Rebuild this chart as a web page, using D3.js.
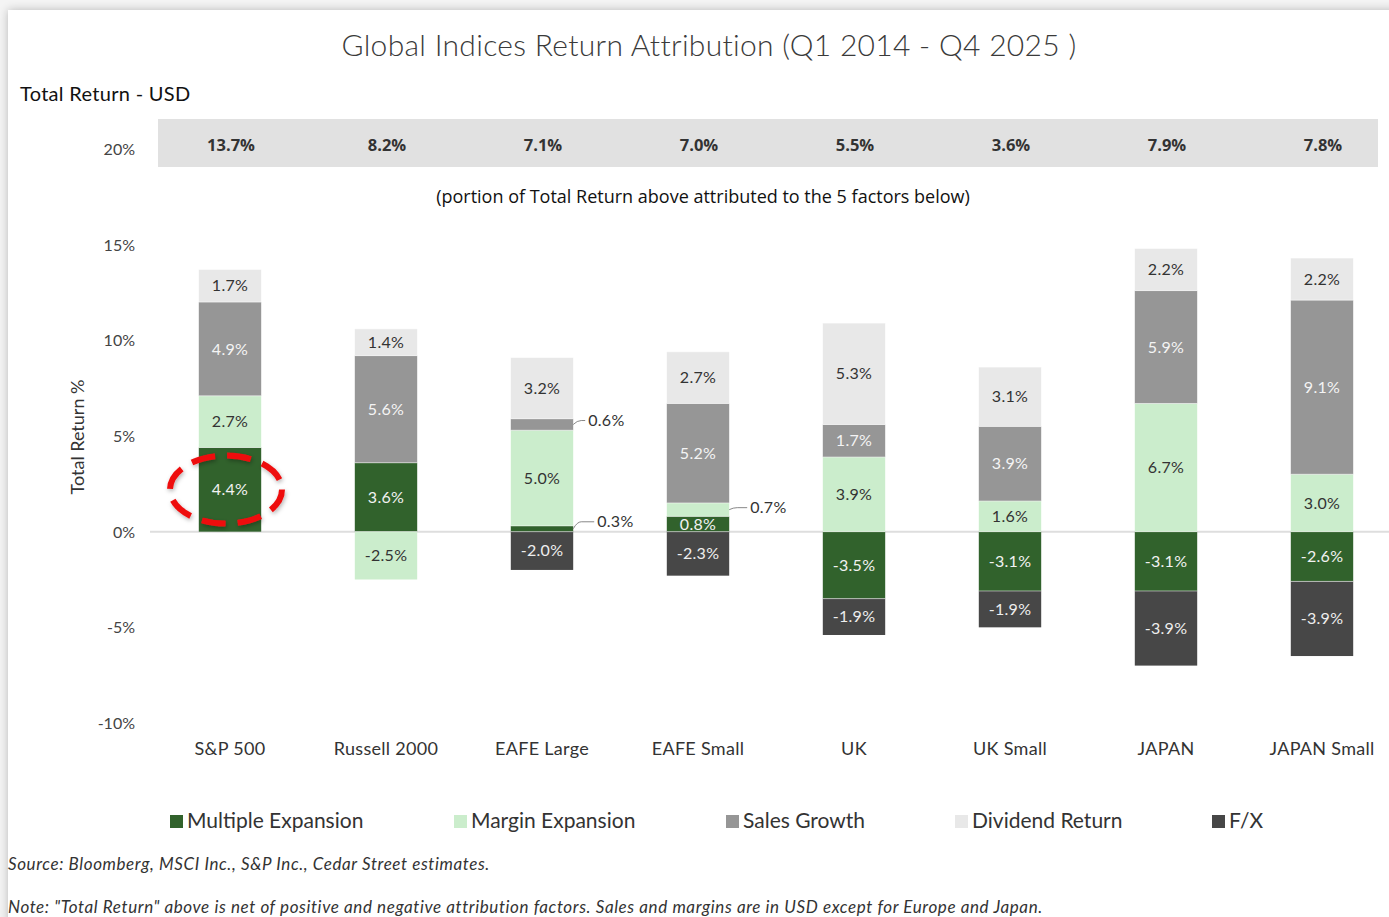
<!DOCTYPE html>
<html><head><meta charset="utf-8">
<script src="https://cdn.jsdelivr.net/npm/d3@7"></script>
<style>
html,body{margin:0;padding:0;background:#fff;}
svg{display:block;}
</style></head>
<body>
<svg id="chart" width="1389" height="917"></svg>
<script>
const categories = ["S&P 500","Russell 2000","EAFE Large","EAFE Small","UK","UK Small","JAPAN","JAPAN Small"];
const totalReturn = ["13.7%","8.2%","7.1%","7.0%","5.5%","3.6%","7.9%","7.8%"];
const seriesNames = ["Multiple Expansion","Margin Expansion","Sales Growth","Dividend Return","F/X"];
const multipleExpansion = [4.4, 3.6, 0.3, 0.8, -3.5, -3.1, -3.1, -2.6];
const marginExpansion   = [2.7, -2.5, 5.0, 0.7, 3.9, 1.6, 6.7, 3.0];
const salesGrowth       = [4.9, 5.6, 0.6, 5.2, 1.7, 3.9, 5.9, 9.1];
const dividendReturn    = [1.7, 1.4, 3.2, 2.7, 5.3, 3.1, 2.2, 2.2];
const fx                = [0, 0, -2.0, -2.3, -1.9, -1.9, -3.9, -3.9];
const yTicks = [-10, -5, 0, 5, 10, 15, 20];

const colors = ["#31622c","#cbedcc","#969696","#e8e8e8","#474747"];
const labelColors = ["#f2f2f2","#333","#f4f4f4","#333","#eee"];
const seriesVals = [multipleExpansion, marginExpansion, salesGrowth, dividendReturn, fx];

const svg = d3.select("#chart");
const W = 1389, H = 917;

const defs = svg.append("defs");
const f = defs.append("filter").attr("id","sh").attr("x","-5%").attr("y","-5%").attr("width","110%").attr("height","110%");
f.append("feGaussianBlur").attr("in","SourceAlpha").attr("stdDeviation",5);
f.append("feOffset").attr("dx",0).attr("dy",0).attr("result","b");
f.append("feComponentTransfer").append("feFuncA").attr("type","linear").attr("slope",0.25);
const fm = f.append("feMerge"); fm.append("feMergeNode"); fm.append("feMergeNode").attr("in","SourceGraphic");
const fe = defs.append("filter").attr("id","esh").attr("x","-20%").attr("y","-20%").attr("width","140%").attr("height","140%");
fe.append("feDropShadow").attr("dx",1).attr("dy",2).attr("stdDeviation",2).attr("flood-color","#000").attr("flood-opacity",0.3);

svg.append("rect").attr("width",W).attr("height",H).attr("fill","#f4f4f4");
svg.append("rect").attr("x",8).attr("y",10).attr("width",W+20).attr("height",H+20).attr("fill","#fff").attr("filter","url(#sh)");

const avenir = "Lato, 'Noto Sans', sans-serif";
const calibri = "'Open Sans', 'Noto Sans', sans-serif";

const x = d3.scaleBand().domain(categories).range([152,1400]).padding(0);
const barW = x.bandwidth()*0.4;
const y = d3.scaleLinear().domain([-10,20]).range([723,149]);

svg.append("text").attr("x",709).attr("y",56).attr("text-anchor","middle")
  .attr("font-family",avenir).attr("font-weight",300).attr("font-size",30).attr("letter-spacing",0.3).attr("fill","#3a3a3a")
  .text("Global Indices Return Attribution (Q1 2014 - Q4 2025 )");
svg.append("text").attr("x",20).attr("y",101)
  .attr("font-family",avenir).attr("font-size",20).attr("letter-spacing",0.3).attr("fill","#111")
  .text("Total Return - USD");

svg.append("rect").attr("x",158).attr("y",119).attr("width",1220).attr("height",48).attr("fill","#e1e1e1");
svg.append("g").selectAll("text").data(categories).join("text")
  .attr("x",d=>x(d)+x.bandwidth()/2+1).attr("y",151).attr("text-anchor","middle")
  .attr("font-family",calibri).attr("font-weight","bold").attr("font-size",16.5).attr("fill","#333")
  .text((d,i)=>totalReturn[i]);
svg.append("text").attr("x",703).attr("y",203).attr("text-anchor","middle")
  .attr("font-family",calibri).attr("font-size",18).attr("fill","#111")
  .text("(portion of Total Return above attributed to the 5 factors below)");

const yAxis = d3.axisLeft(y).tickValues(yTicks).tickFormat(d=>d+"%").tickSize(0).tickPadding(0);
const ga = svg.append("g").attr("transform","translate(135,0)").call(yAxis);
ga.select(".domain").remove();
ga.selectAll("text").attr("font-family",avenir).attr("font-size",16).attr("fill","#444").attr("dy","0.35em");
svg.append("text").attr("transform","translate(84,437) rotate(-90)").attr("text-anchor","middle")
  .attr("font-family",avenir).attr("font-size",18).attr("fill","#333").text("Total Return %");

svg.append("line").attr("x1",150).attr("x2",W).attr("y1",y(0)).attr("y2",y(0)).attr("stroke","#dedede").attr("stroke-width",2);

const rows = categories.map((c,i)=>{ const r={cat:c}; seriesNames.forEach((s,j)=>r[s]=seriesVals[j][i]); return r; });
const stack = d3.stack().keys(seriesNames).offset(d3.stackOffsetDiverging)(rows);

const g = svg.append("g");
stack.forEach((layer,j)=>{
  g.append("g").selectAll("rect").data(layer).join("rect")
    .attr("x",d=>x(d.data.cat)+(x.bandwidth()-barW)/2)
    .attr("width",barW)
    .attr("y",d=>y(Math.max(d[0],d[1])))
    .attr("height",d=>Math.abs(y(d[0])-y(d[1])))
    .attr("fill",colors[j]);
});
stack.forEach((layer,j)=>{
  g.append("g").selectAll("line").data(layer.filter(d=>d[1]!==d[0])).join("line")
    .attr("x1",d=>x(d.data.cat)+(x.bandwidth()-barW)/2).attr("x2",d=>x(d.data.cat)+(x.bandwidth()+barW)/2)
    .attr("y1",d=>y(Math.max(d[0],d[1]))).attr("y2",d=>y(Math.max(d[0],d[1])))
    .attr("stroke","#fff").attr("stroke-opacity",0.5).attr("stroke-width",1);
});

stack.forEach((layer,j)=>{
  layer.forEach((d,i)=>{
    const v = seriesVals[j][i];
    if (v === 0) return;
    const cx = x(d.data.cat)+x.bandwidth()/2;
    const cy = y((d[0]+d[1])/2);
    const txt = v.toFixed(1)+"%";
    if (Math.abs(v) < 0.8) {
      const xr = cx + barW/2;
      const ly = cy - (j===0 ? 7 : j===1 ? 2 : 4);
      const lx = xr + (j===0 ? 24 : j===1 ? 21 : 15);
      svg.append("path").attr("d",`M${xr},${cy} Q${xr+4},${ly} ${xr+8},${ly} L${lx-3},${ly}`)
        .attr("fill","none").attr("stroke","#888").attr("stroke-width",1);
      svg.append("text").attr("x",lx).attr("y",ly).attr("dy","0.35em")
        .attr("font-family",avenir).attr("font-size",16).attr("letter-spacing",0.3).attr("fill","#333").text(txt);
    } else {
      svg.append("text").attr("x",cx).attr("y",cy).attr("dy","0.35em").attr("text-anchor","middle")
        .attr("font-family",avenir).attr("font-size",16).attr("letter-spacing",0.3).attr("fill",labelColors[j]).text(txt);
    }
  });
});

svg.append("g").selectAll("text").data(categories).join("text")
  .attr("x",d=>x(d)+x.bandwidth()/2).attr("y",755).attr("text-anchor","middle")
  .attr("font-family",avenir).attr("font-size",18).attr("letter-spacing",0.3).attr("fill","#333").text(d=>d);

const hx = x(categories[0])+x.bandwidth()/2 - 4;
const hy = y(multipleExpansion[0]/2);
svg.append("ellipse").attr("cx",hx).attr("cy",hy).attr("rx",56).attr("ry",34)
  .attr("fill","none").attr("stroke","#ee1111").attr("stroke-width",6)
  .attr("stroke-dasharray","24,12").attr("filter","url(#esh)");

const legX = [170,454,726,955,1212];
const lg = svg.append("g");
seriesNames.forEach((s,j)=>{
  lg.append("rect").attr("x",legX[j]).attr("y",815).attr("width",13).attr("height",13).attr("fill",colors[j]);
  lg.append("text").attr("x",legX[j]+17).attr("y",828).attr("font-family",avenir).attr("font-size",21).attr("fill","#333").text(s);
});

svg.append("text").attr("x",8).attr("y",870).attr("font-family",avenir).attr("font-style","italic").attr("font-size",17).attr("letter-spacing",0.6).attr("fill","#333")
  .text("Source: Bloomberg, MSCI Inc., S&P Inc., Cedar Street estimates.");
svg.append("text").attr("x",8).attr("y",913).attr("font-family",avenir).attr("font-style","italic").attr("font-size",17).attr("letter-spacing",0.6).attr("fill","#333")
  .text("Note: \"Total Return\" above is net of positive and negative attribution factors. Sales and margins are in USD except for Europe and Japan.");
</script>
</body></html>
